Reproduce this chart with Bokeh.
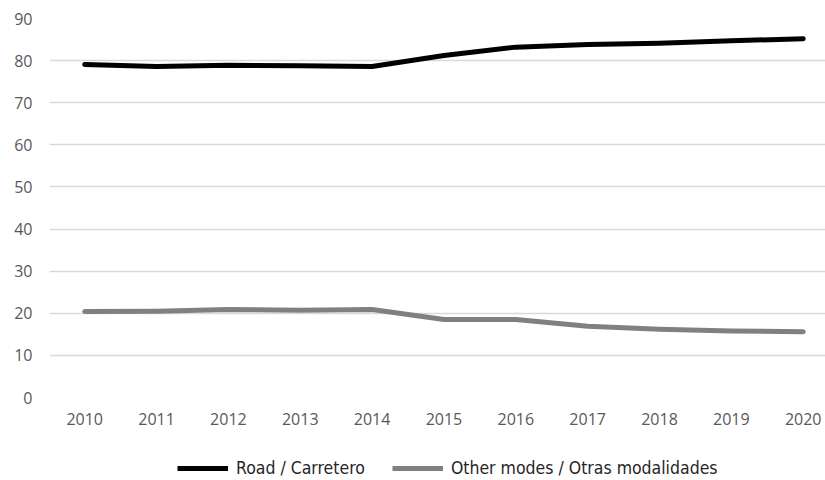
from bokeh.plotting import figure
from bokeh.layouts import column
from bokeh.models import Legend, LegendItem, FixedTicker, ColumnDataSource, Range1d
from bokeh.embed import file_html
from bokeh.resources import INLINE

years = [2010, 2011, 2012, 2013, 2014, 2015, 2016, 2017, 2018, 2019, 2020]
road = [79.1, 78.6, 78.9, 78.8, 78.6, 81.2, 83.2, 83.8, 84.1, 84.7, 85.2]
other = [20.4, 20.5, 20.9, 20.7, 20.9, 18.5, 18.5, 16.9, 16.2, 15.8, 15.6]
y_ticks = [0, 10, 20, 30, 40, 50, 60, 70, 80, 90]

ROAD_COLOR = "#000000"
OTHER_COLOR = "#808080"
LINE_W = 5

src = ColumnDataSource(dict(year=years, road=road, other=other))

# main chart
p = figure(width=825, height=430, output_backend="svg", toolbar_location=None,
           x_range=(2009.51, 2020.31), y_range=(0, 90),
           min_border_left=49, min_border_right=0, min_border_top=18,
           min_border_bottom=33)
p.outline_line_color = None
p.background_fill_color = "white"
p.border_fill_color = "white"

for ax in (p.xaxis[0], p.yaxis[0]):
    ax.axis_line_color = None
    ax.major_tick_line_color = None
    ax.minor_tick_line_color = None
    ax.major_tick_out = 0
    ax.major_tick_in = 0
    ax.major_label_text_font = "Open Sans"
    ax.major_label_text_font_size = "16px"
    ax.major_label_text_color = "#595959"

p.xaxis.ticker = FixedTicker(ticks=years)
p.xaxis.major_label_standoff = 15
p.yaxis.ticker = FixedTicker(ticks=y_ticks)
p.yaxis.major_label_standoff = 17

p.xgrid.grid_line_color = None
p.ygrid.grid_line_color = "#d9d9d9"
p.ygrid.grid_line_width = 1.5

p.line("year", "road", source=src, line_color=ROAD_COLOR, line_width=LINE_W,
       line_cap="round", line_join="round")
p.line("year", "other", source=src, line_color=OTHER_COLOR, line_width=LINE_W,
       line_cap="round", line_join="round")

# legend strip underneath (key lines sit outside the visible range)
lg = figure(width=825, height=50, output_backend="svg", toolbar_location=None,
            x_range=Range1d(0, 1), y_range=Range1d(0, 1),
            min_border=0, min_border_left=0, min_border_right=0,
            min_border_top=0, min_border_bottom=0)
lg.axis.visible = False
lg.grid.visible = False
lg.outline_line_color = None
lg.border_fill_color = "white"
lg.background_fill_color = "white"
k1 = lg.line([5, 6], [5, 6], line_color=ROAD_COLOR, line_width=LINE_W)
k2 = lg.line([5, 6], [5, 6], line_color=OTHER_COLOR, line_width=LINE_W)

legend = Legend(items=[LegendItem(label="Road / Carretero", renderers=[k1]),
                       LegendItem(label="Other modes / Otras modalidades", renderers=[k2])],
                orientation="horizontal", location=(128, 2),
                padding=0, margin=0, spacing=27,
                glyph_width=51, glyph_height=20, label_standoff=8,
                label_text_font="Liberation Sans Narrow, DejaVu Sans Condensed",
                label_text_font_size="17.5px", label_text_color="#262626",
                border_line_color=None, background_fill_alpha=0)
lg.add_layout(legend, "center")

open("out.html", "w").write(file_html(column(p, lg, spacing=0), INLINE))
